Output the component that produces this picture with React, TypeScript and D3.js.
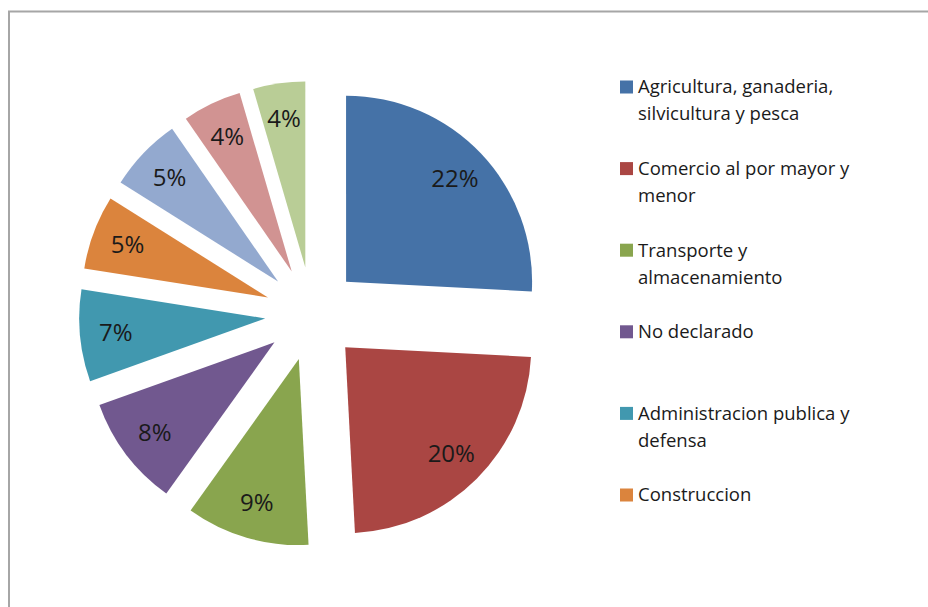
import React, { useRef, useEffect } from 'react';
import * as d3 from 'd3';

// sectors in clockwise order from 12 o'clock
const sectors = [
  'Agricultura, ganaderia, silvicultura y pesca',
  'Comercio al por mayor y menor',
  'Transporte y almacenamiento',
  'No declarado',
  'Administracion publica y defensa',
  'Construccion',
  'Otros 1',
  'Otros 2',
  'Otros 3',
];
// shares (% of total); labels show them rounded
const shares = [21.7, 19.6, 9.0, 8.1, 6.7, 5.4, 5.4, 4.3, 3.8];
const colors = ['#4572A7', '#AA4643', '#89A54E', '#71588F', '#4198AF', '#DB843D', '#93A9CF', '#D19392', '#B9CD96'];

// legend only shows the first six entries, wrapped as in the original
const legendLines = [
  ['Agricultura, ganaderia,', 'silvicultura y pesca'],
  ['Comercio al por mayor y', 'menor'],
  ['Transporte y', 'almacenamiento'],
  ['No declarado'],
  ['Administracion publica y', 'defensa'],
  ['Construccion'],
];

const width = 928;
const height = 607;
const cx = 312;
const cy = 314;
const radius = 186;
const explode = 47;
const labelR = 150;
const font = '"Open Sans", sans-serif';

const App = () => {
  const svgRef = useRef<SVGSVGElement>(null);

  useEffect(() => {
    const svg = d3.select(svgRef.current);
    svg.selectAll('*').remove();

    svg.append('rect')
      .attr('width', width)
      .attr('height', height)
      .attr('fill', '#fff');

    // chart frame (only top and left edges are visible)
    svg.append('path')
      .attr('d', `M9,${height} V11.5 H${width}`)
      .attr('fill', 'none')
      .attr('stroke', '#a6a6a6')
      .attr('stroke-width', 2);

    const data = sectors.map((s, i) => ({ label: s, value: shares[i], color: colors[i] }));

    const pie = d3.pie<any>()
      .sort(null)
      .value(d => d.value);

    const arc = d3.arc<any>()
      .innerRadius(0)
      .outerRadius(radius);

    const g = svg.append('g')
      .attr('transform', `translate(${cx},${cy})`);

    const slices = g.selectAll('.arc')
      .data(pie(data))
      .enter()
      .append('g')
      .attr('class', 'arc')
      .attr('transform', d => {
        const mid = (d.startAngle + d.endAngle) / 2;
        return `translate(${Math.sin(mid) * explode},${-Math.cos(mid) * explode})`;
      });

    slices.append('path')
      .attr('d', arc)
      .attr('fill', d => d.data.color);

    slices.append('text')
      .attr('x', d => Math.sin((d.startAngle + d.endAngle) / 2) * labelR)
      .attr('y', d => -Math.cos((d.startAngle + d.endAngle) / 2) * labelR)
      .attr('dy', '0.35em')
      .attr('text-anchor', 'middle')
      .attr('font-family', font)
      .attr('font-size', 24)
      .attr('fill', '#1a1a1a')
      .text(d => `${Math.round(d.data.value)}%`);

    const legend = svg.append('g')
      .attr('font-family', font)
      .attr('font-size', 18.5)
      .attr('fill', '#1a1a1a');

    legendLines.forEach((lines, i) => {
      const y0 = 87 + i * 81.6;
      legend.append('rect')
        .attr('x', 620)
        .attr('y', y0 - 6.5)
        .attr('width', 13)
        .attr('height', 13)
        .attr('fill', colors[i]);
      lines.forEach((line, j) => {
        legend.append('text')
          .attr('x', 638)
          .attr('y', y0 + j * 27)
          .attr('dy', '0.35em')
          .text(line);
      });
    });
  }, []);

  return (
    <svg
      ref={svgRef}
      width={width}
      height={height}
      style={{ position: 'absolute', left: 0, top: 0, display: 'block' }}
    ></svg>
  );
};

export default App;
